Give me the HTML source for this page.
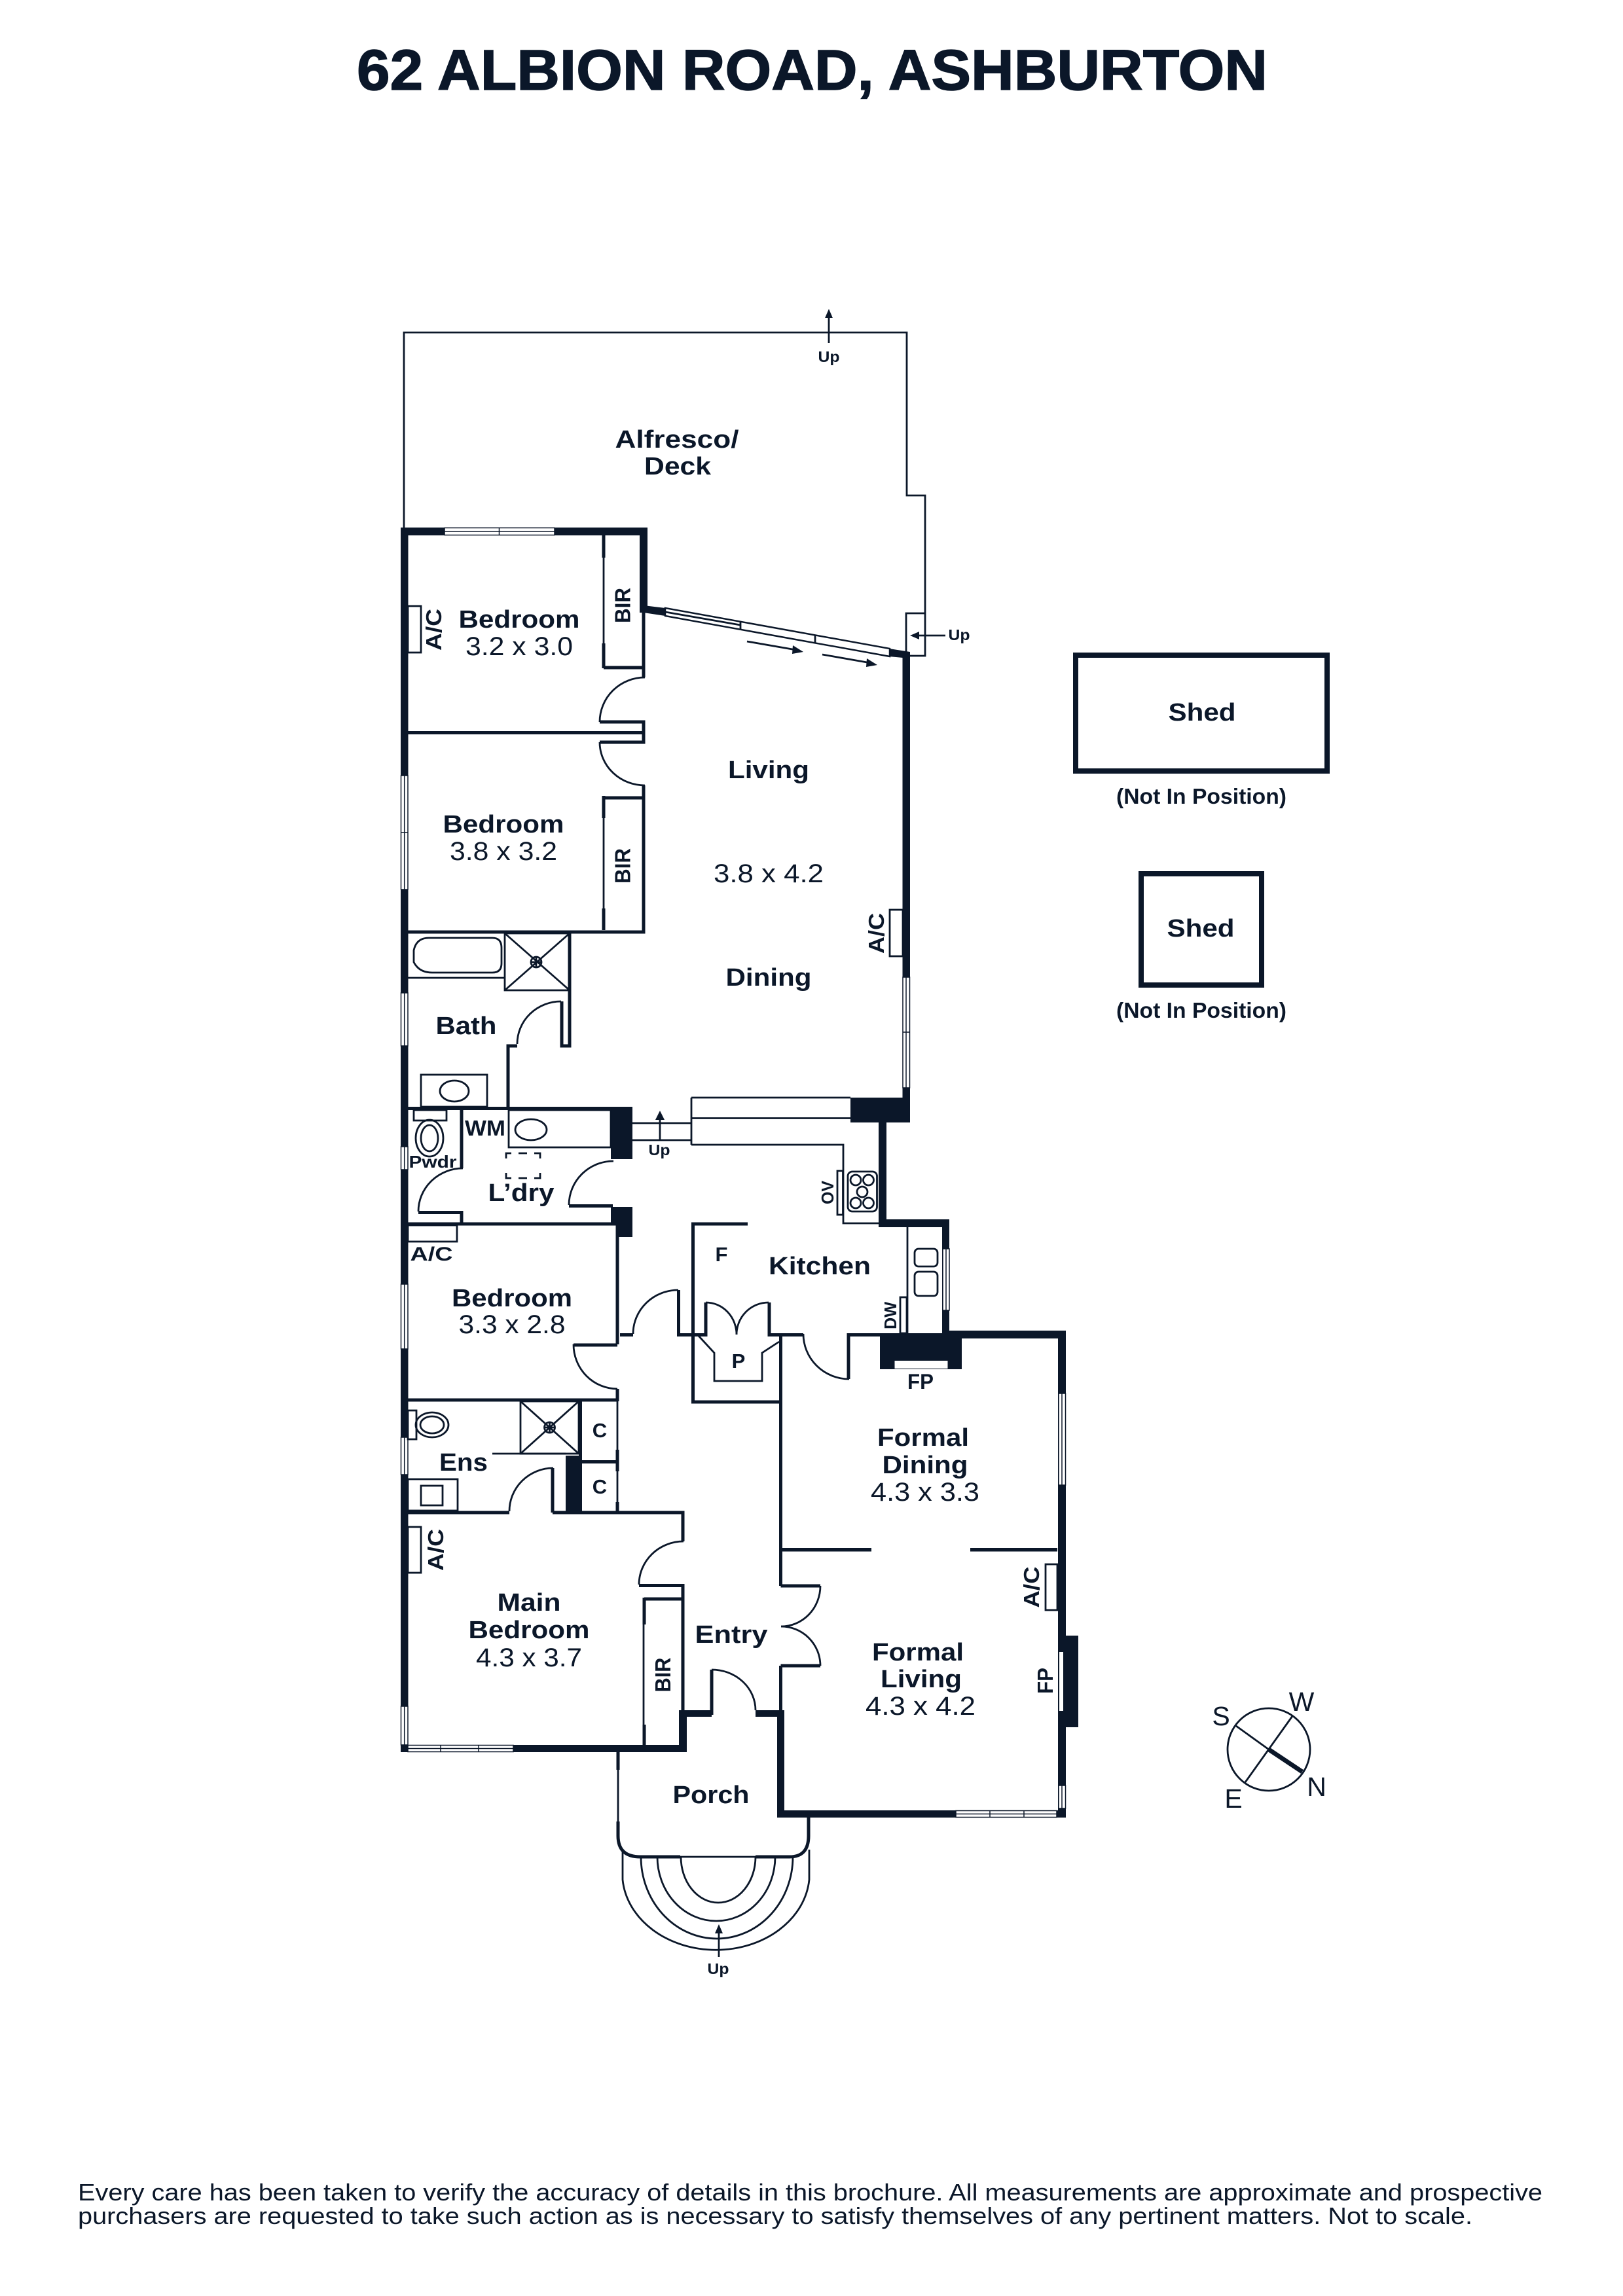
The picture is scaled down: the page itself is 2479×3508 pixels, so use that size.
<!DOCTYPE html>
<html><head><meta charset="utf-8"><style>
html,body{margin:0;padding:0;background:#fff}
svg{display:block}
text{font-family:"Liberation Sans",sans-serif;fill:#0b1729;text-anchor:middle}
.b{font-weight:bold;font-size:38px}
.r{font-size:40px}
.s{font-weight:bold;font-size:33px}
.u{font-weight:bold;font-size:23px}
.t{fill:none;stroke:#0b1729;stroke-width:2.8}
.m{fill:none;stroke:#0b1729;stroke-width:5}
.d{fill:#0b1729;stroke:none}
.wn{fill:#fff;stroke:#0b1729;stroke-width:1.5}
</style></head><body>
<svg xmlns="http://www.w3.org/2000/svg" width="2479" height="3508" viewBox="0 0 2479 3508">
<rect width="2479" height="3508" fill="#fff"/>

<text x="1240.5" y="137" style="font-weight:bold;font-size:87px;stroke:#0b1729;stroke-width:1.5" textLength="1391" lengthAdjust="spacingAndGlyphs">62 ALBION ROAD, ASHBURTON</text>

<!-- Deck -->
<path class="t" d="M617,807V508H1385V757H1413V1002H1384V937H1413"/>
<path class="t" d="M1266,524V485"/><path class="d" d="M1266,472l-6,14h12z"/>
<text class="u" x="1266" y="553" textLength="33" lengthAdjust="spacingAndGlyphs">Up</text>
<path class="t" d="M1444,971H1400"/><path class="d" d="M1390,971l14,-6v12z"/>
<text class="u" x="1465" y="978" textLength="33" lengthAdjust="spacingAndGlyphs">Up</text>

<!-- Heavy outer walls -->
<g class="d">
<rect x="612" y="806" width="11.5" height="1871"/>
<rect x="612" y="806" width="377" height="12"/>
<rect x="977" y="806" width="12" height="130"/>
<rect x="1378.5" y="996" width="11.5" height="719"/>
<rect x="1299" y="1677" width="91" height="38"/>
<rect x="1342" y="1677" width="12" height="198"/>
<rect x="1342" y="1863" width="108" height="12"/>
<rect x="1439" y="1863" width="11" height="180"/>
<rect x="1344" y="2037" width="125" height="55"/>
<rect x="1439" y="2033" width="188" height="12"/>
<rect x="1616" y="2033" width="12" height="744"/>
<rect x="1628" y="2499" width="19" height="140"/>
<rect x="1187" y="2766" width="441" height="11"/>
<rect x="1187" y="2613" width="11" height="164"/>
<rect x="1154" y="2613" width="44" height="10"/>
<rect x="612" y="2666" width="437" height="11"/>
<rect x="1037" y="2613" width="12" height="64"/>
<rect x="1037" y="2613" width="50" height="10"/>
<rect x="933" y="1691" width="33" height="80"/>
<rect x="933" y="1844" width="33" height="25"/>
<rect x="941" y="1869" width="25" height="21"/>
<rect x="864" y="2224" width="25" height="87"/>
</g>

<!-- Sloped glazing -->
<path class="d" d="M983,925L1016,929V941L983,936Z"/>
<path class="d" d="M1358,991L1390,996V1006L1358,1003Z"/>
<path fill="#fff" stroke="#0b1729" stroke-width="2.5" d="M1016,929L1359,991V1003L1016,941Z"/>
<path class="t" d="M1016,935L1131,955M1131,950V962M1245,970V983"/>
<path class="t" d="M1141,980L1216,993"/><path class="d" d="M1227,996l-16,-10l-1,13z"/>
<path class="t" d="M1256,1000L1330,1013"/><path class="d" d="M1340,1016l-16,-10l-1,13z"/>

<!-- Medium interior walls -->
<g class="m">
<path d="M983,936V1035"/>
<path d="M916,1103H983V1134H916"/>
<path d="M623,1119.5H983"/>
<path d="M983,1200V1424H623"/>
<path d="M982,1219H922"/>
<path d="M982,1020H922"/>
<path d="M870,1426V1598H858V1530"/>
<path d="M790,1598H776V1693"/>
<path d="M623,1693.5H935"/>
<path d="M705,1696V1785"/>
<path d="M639,1852.5H705V1870"/>
<path d="M869,1842.5H936"/>
<path d="M623,1870H943V2054"/>
<path d="M876,2055H943"/>
<path d="M943,2122V2141"/>
<path d="M623,2139H943"/>
<path d="M886.5,2141V2311"/>
<path d="M889,2233.5H943"/>
<path d="M943,2215V2248M943,2295V2311"/>
<path d="M623,2311H778M844,2311V2243M844,2311H1043V2355"/>
<path d="M976,2422.5H1043V2613"/>
<path d="M1058.5,2143V1870H1142"/>
<path d="M1056,2142H1192"/>
<path d="M947,2039.5H967"/>
<path d="M1036.5,1971V2039.5H1078V1990"/>
<path d="M1175,1990V2039.5H1227"/>
<path d="M1296,2107V2039.5H1344"/>
<path d="M1192.5,2042V2423"/>
<path d="M1192.5,2423H1253M1192.5,2545H1253M1192.5,2545V2613"/>
<path d="M1087,2551V2620"/>
</g>
<g class="d">
<rect x="1193" y="2365" width="138" height="5.5"/>
<rect x="1482" y="2365" width="133" height="5.5"/>
</g>

<!-- BIR fronts -->
<path class="m" d="M922,818V852M922,983V1021"/><path class="t" d="M922,852V983"/>
<path class="m" d="M922,1216V1250M922,1388V1421"/><path class="t" d="M922,1250V1388"/>
<path class="m" d="M984,2443H1042M984,2441V2482M984,2635V2666"/><path class="t" d="M983,2482V2635"/>

<!-- Windows -->
<g class="wn">
<rect x="679" y="806.5" width="168" height="11"/>
<rect x="612.5" y="1185" width="10.5" height="174"/>
<rect x="612.5" y="1517" width="10.5" height="81"/>
<rect x="612.5" y="1752" width="10.5" height="35"/>
<rect x="612.5" y="1962" width="10.5" height="99"/>
<rect x="612.5" y="2196" width="10.5" height="57"/>
<rect x="612.5" y="2607" width="10.5" height="59"/>
<rect x="623" y="2666.5" width="161" height="10"/>
<rect x="1379" y="1493" width="10.5" height="169"/>
<rect x="1440" y="1908" width="10" height="94"/>
<rect x="1617" y="2129" width="10.5" height="140"/>
<rect x="1617" y="2728" width="10.5" height="35"/>
<rect x="1460" y="2766.5" width="154" height="10"/>
</g>
<path fill="none" stroke="#0b1729" stroke-width="1.5" d="M679,812H847M762.5,806V818M617.7,1185V1359M612,1272H623M617.7,1517V1598M617.7,1752V1787M617.7,1962V2061M617.7,2196V2253M617.7,2607V2666M623,2671.5H784M673,2666V2677M731,2666V2677M1384,1493V1662M1379,1577H1390M1445,1908V2002M1622,2129V2269M1622,2728V2763M1460,2771.5H1614M1512,2766V2777M1564,2766V2777"/>
<rect x="1366.5" y="2079" width="81" height="12" fill="#fff"/>
<rect x="1618" y="2524" width="6" height="90" fill="#fff"/>

<!-- Thin fittings -->
<g class="t">
<path d="M985,1035A69,68 0 0 0 916,1103"/>
<path d="M916,1134A69,66 0 0 0 985,1200"/>
<path d="M857,1530A67,65 0 0 0 790,1595"/>
<path d="M707,1785A68,66 0 0 0 639,1851"/>
<path d="M937,1774A68,67 0 0 0 869,1841"/>
<path d="M876,2054A67,68 0 0 0 943,2122"/>
<path d="M967,2038A69,67 0 0 1 1036,1971"/>
<path d="M1078,1990A47,49 0 0 1 1125,2039"/>
<path d="M1174,1990A49,49 0 0 0 1125,2039"/>
<path d="M1227,2038A70,69 0 0 0 1297,2107"/>
<path d="M778,2309A67,66 0 0 1 845,2243"/>
<path d="M1044,2355A68,66 0 0 0 976,2421"/>
<path d="M1087,2551A67,62 0 0 1 1154,2613"/>
<path d="M1253,2423A60,62 0 0 1 1193,2485"/>
<path d="M1193,2485A60,60 0 0 1 1253,2545"/>

<rect x="623" y="926" width="20" height="71"/>
<rect x="1359" y="1390" width="20" height="71"/>
<rect x="623" y="1872" width="75" height="25"/>
<rect x="623" y="2333" width="20" height="70"/>
<rect x="1597" y="2390" width="18" height="70"/>

<path d="M623,1494H771"/>
<rect x="771" y="1426" width="99" height="87"/>
<path d="M771,1426L870,1513M870,1426L771,1513"/>
<circle cx="819" cy="1470" r="8"/><path d="M811,1470H827M819,1462V1478"/>
<path d="M655,1433H752Q766,1433 766,1448V1472Q766,1486 752,1486H660Q640,1486 632,1470V1452Q636,1433 655,1433Z"/>
<rect x="643" y="1642" width="101" height="49"/>
<ellipse cx="694" cy="1667" rx="22" ry="16"/>
<rect x="632" y="1696" width="50" height="16"/>
<ellipse cx="656" cy="1739" rx="21" ry="28"/>
<ellipse cx="656" cy="1739" rx="13" ry="20"/>
<rect x="777" y="1696" width="156" height="57"/>
<ellipse cx="811" cy="1726" rx="24" ry="16"/>
<path d="M773,1770V1762H781M792,1762H805M816,1762H825V1770M773,1792V1800H781M792,1800H805M816,1800H825V1792"/>

<path d="M966,1716H1056M966,1742H1056M1056,1677V1749M1056,1677H1299M1056,1708.5H1299M1056,1749H1288V1869H1344"/>
<path d="M1008,1743V1708"/>
<rect x="1295" y="1790" width="44.5" height="61" rx="7"/>
<circle cx="1307" cy="1803" r="8"/><circle cx="1326.5" cy="1803" r="8"/><circle cx="1317" cy="1821" r="8"/><circle cx="1307" cy="1838" r="8"/><circle cx="1326.5" cy="1838" r="8"/>
<rect x="1279" y="1789" width="8.5" height="67"/>
<path d="M1386,1875V2037"/>
<rect x="1397" y="1908" width="35" height="27" rx="6"/>
<rect x="1397" y="1943" width="35" height="37" rx="6"/>
<rect x="1375" y="1982" width="10" height="55"/>
<path d="M1067,2041L1091,2067V2110H1164V2067L1190,2050"/>

<rect x="795" y="2141" width="89" height="80"/>
<path d="M795,2141L884,2221M884,2141L795,2221"/>
<circle cx="839.5" cy="2181" r="8"/><path d="M831.5,2181H847.5M839.5,2173V2189"/>
<path d="M752,2221H864"/>
<path d="M943,2141V2311"/>
<rect x="623" y="2155" width="13" height="44"/>
<ellipse cx="660" cy="2177" rx="25" ry="19"/>
<ellipse cx="660" cy="2177" rx="18" ry="13"/>
<rect x="623" y="2260" width="76" height="48"/>
<rect x="643" y="2270" width="33" height="30"/>

<!-- Steps -->
<path d="M1040,2837A57,70 0 0 0 1154,2837"/>
<path d="M1004,2837A90,98 0 0 0 1184,2837"/>
<path d="M979,2837A116,125 0 0 0 1211,2837"/>
<path d="M951,2826V2872A143,117 0 0 0 1236,2872V2826"/>
<path d="M1098,2990V2952"/>
<path d="M944,2704V2783M1039,2837H1154"/>
</g>
<path class="d" d="M1008,1697l-7,14h14z"/>
<path class="d" d="M1098,2940l-6,14h12z"/>
<!-- Porch -->
<g class="m">
<path d="M944,2677V2704M944,2783V2805Q944,2837 978,2837H1039"/>
<path d="M1154,2837H1206Q1235,2837 1235,2805V2777"/>
</g>

<!-- Sheds -->
<rect x="1643" y="1001" width="384" height="177" fill="none" stroke="#0b1729" stroke-width="8"/>
<rect x="1743" y="1335" width="184" height="170" fill="none" stroke="#0b1729" stroke-width="8"/>
<text class="b" x="1836" y="1101" textLength="103" lengthAdjust="spacingAndGlyphs">Shed</text>
<text class="s" x="1835" y="1228" textLength="260" lengthAdjust="spacingAndGlyphs">(Not In Position)</text>
<text class="b" x="1834" y="1431" textLength="103" lengthAdjust="spacingAndGlyphs">Shed</text>
<text class="s" x="1835" y="1555" textLength="260" lengthAdjust="spacingAndGlyphs">(Not In Position)</text>

<!-- Compass -->
<circle cx="1938" cy="2673" r="63" class="t"/>
<path class="t" d="M1888,2637L1938,2673M1974,2622L1902,2723"/>
<path stroke="#0b1729" stroke-width="7" d="M1938,2673L1989,2707"/>
<text x="1865" y="2636" style="font-size:41px">S</text>
<text x="1988" y="2614" style="font-size:41px">W</text>
<text x="2011" y="2744" style="font-size:41px">N</text>
<text x="1884" y="2762" style="font-size:41px">E</text>

<!-- Room labels -->
<text class="b" x="1034" y="684" textLength="189" lengthAdjust="spacingAndGlyphs">Alfresco/</text>
<text class="b" x="1035" y="725" textLength="102" lengthAdjust="spacingAndGlyphs">Deck</text>
<text class="b" x="793" y="959" textLength="185" lengthAdjust="spacingAndGlyphs">Bedroom</text>
<text class="r" x="793" y="1001" textLength="164" lengthAdjust="spacingAndGlyphs">3.2 x 3.0</text>
<text class="b" x="769" y="1272" textLength="185" lengthAdjust="spacingAndGlyphs">Bedroom</text>
<text class="r" x="769" y="1314" textLength="164" lengthAdjust="spacingAndGlyphs">3.8 x 3.2</text>
<text class="b" x="1174" y="1189" textLength="124" lengthAdjust="spacingAndGlyphs">Living</text>
<text class="r" x="1174" y="1348" textLength="168" lengthAdjust="spacingAndGlyphs">3.8 x 4.2</text>
<text class="b" x="1174" y="1506" textLength="131" lengthAdjust="spacingAndGlyphs">Dining</text>
<text class="b" x="712" y="1580" textLength="93" lengthAdjust="spacingAndGlyphs">Bath</text>
<text class="s" x="741" y="1735" textLength="62" lengthAdjust="spacingAndGlyphs">WM</text>
<text class="u" style="font-size:26px" x="661" y="1784" textLength="73" lengthAdjust="spacingAndGlyphs">Pwdr</text>
<text class="b" x="796" y="1835" textLength="101" lengthAdjust="spacingAndGlyphs">L’dry</text>
<text class="s" x="659" y="1926" style="font-size:30px" textLength="65" lengthAdjust="spacingAndGlyphs">A/C</text>
<text class="b" x="1252" y="1947" textLength="156" lengthAdjust="spacingAndGlyphs">Kitchen</text>
<text class="s" x="1102" y="1927" style="font-size:31px">F</text>
<text class="s" x="1128" y="2090" style="font-size:31px">P</text>
<text class="b" x="782" y="1996" textLength="184" lengthAdjust="spacingAndGlyphs">Bedroom</text>
<text class="r" x="782" y="2037" textLength="163" lengthAdjust="spacingAndGlyphs">3.3 x 2.8</text>
<text class="s" x="916" y="2196" style="font-size:31px">C</text>
<text class="s" x="916" y="2282" style="font-size:31px">C</text>
<text class="b" x="708" y="2247" textLength="74" lengthAdjust="spacingAndGlyphs">Ens</text>
<text class="b" x="1410" y="2209" textLength="140" lengthAdjust="spacingAndGlyphs">Formal</text>
<text class="b" x="1413" y="2251" textLength="131" lengthAdjust="spacingAndGlyphs">Dining</text>
<text class="r" x="1413" y="2293" textLength="166" lengthAdjust="spacingAndGlyphs">4.3 x 3.3</text>
<text class="s" x="1406" y="2122" style="font-size:32px" textLength="40" lengthAdjust="spacingAndGlyphs">FP</text>
<text class="b" x="808" y="2461" textLength="97" lengthAdjust="spacingAndGlyphs">Main</text>
<text class="b" x="808" y="2503" textLength="185" lengthAdjust="spacingAndGlyphs">Bedroom</text>
<text class="r" x="808" y="2546" textLength="162" lengthAdjust="spacingAndGlyphs">4.3 x 3.7</text>
<text class="b" x="1117" y="2510" textLength="111" lengthAdjust="spacingAndGlyphs">Entry</text>
<text class="b" x="1402" y="2537" textLength="140" lengthAdjust="spacingAndGlyphs">Formal</text>
<text class="b" x="1407" y="2578" textLength="124" lengthAdjust="spacingAndGlyphs">Living</text>
<text class="r" x="1406" y="2620" textLength="168" lengthAdjust="spacingAndGlyphs">4.3 x 4.2</text>
<text class="b" x="1086" y="2755" textLength="117" lengthAdjust="spacingAndGlyphs">Porch</text>

<text class="u" x="1007" y="1765" textLength="33" lengthAdjust="spacingAndGlyphs">Up</text>
<text class="u" x="1097" y="3016" textLength="33" lengthAdjust="spacingAndGlyphs">Up</text>

<!-- Rotated labels -->
<text class="s" transform="translate(674,962) rotate(-90)" textLength="64" lengthAdjust="spacingAndGlyphs">A/C</text>
<text class="s" transform="translate(1350,1426) rotate(-90)" textLength="62" lengthAdjust="spacingAndGlyphs">A/C</text>
<text class="s" transform="translate(677,2368) rotate(-90)" textLength="64" lengthAdjust="spacingAndGlyphs">A/C</text>
<text class="s" transform="translate(1587,2425) rotate(-90)" textLength="63" lengthAdjust="spacingAndGlyphs">A/C</text>
<text class="s" transform="translate(962.5,925) rotate(-90)" textLength="54" lengthAdjust="spacingAndGlyphs">BIR</text>
<text class="s" transform="translate(962.5,1323) rotate(-90)" textLength="54" lengthAdjust="spacingAndGlyphs">BIR</text>
<text class="s" transform="translate(1024,2559) rotate(-90)" textLength="53" lengthAdjust="spacingAndGlyphs">BIR</text>
<text class="u" style="font-size:26px" transform="translate(1273,1822) rotate(-90)" textLength="36" lengthAdjust="spacingAndGlyphs">OV</text>
<text class="u" style="font-size:26px" transform="translate(1369,2010) rotate(-90)" textLength="42" lengthAdjust="spacingAndGlyphs">DW</text>
<text class="s" transform="translate(1608,2568) rotate(-90)" textLength="40" lengthAdjust="spacingAndGlyphs">FP</text>

<!-- Footer -->
<text x="119" y="3362" style="font-size:36px;text-anchor:start" textLength="2237" lengthAdjust="spacingAndGlyphs">Every care has been taken to verify the accuracy of details in this brochure. All measurements are approximate and prospective</text>
<text x="119" y="3398" style="font-size:36px;text-anchor:start" textLength="2130" lengthAdjust="spacingAndGlyphs">purchasers are requested to take such action as is necessary to satisfy themselves of any pertinent matters. Not to scale.</text>
</svg>
</body></html>
